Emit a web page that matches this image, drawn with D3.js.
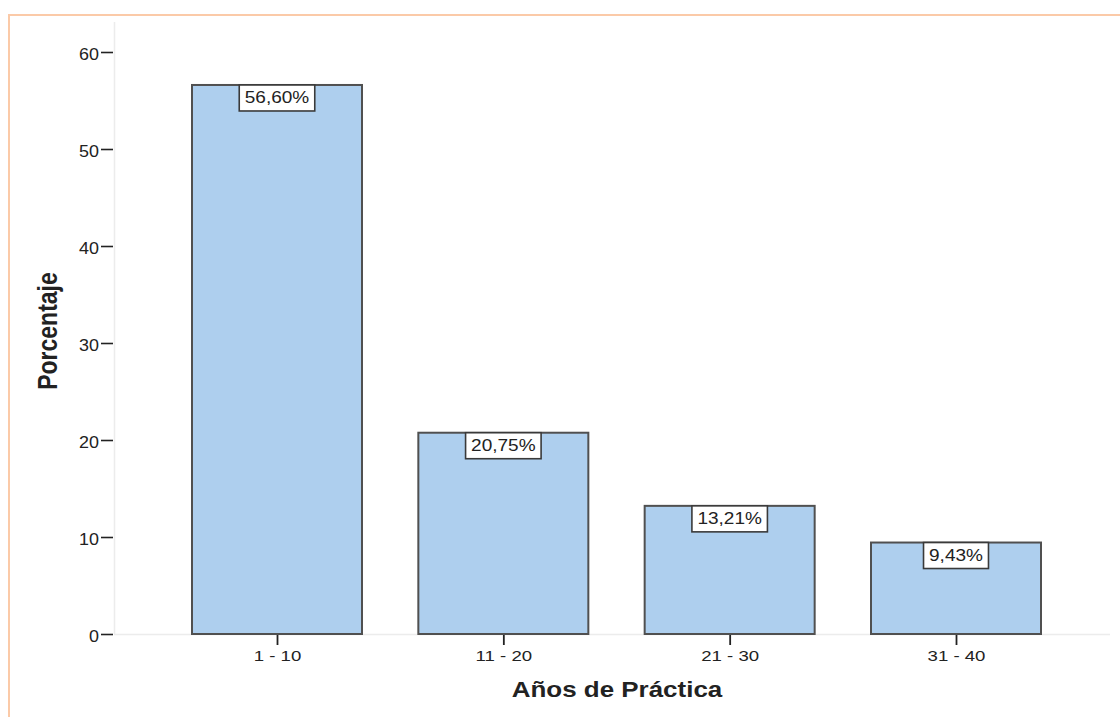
<!DOCTYPE html>
<html>
<head>
<meta charset="utf-8">
<script src="https://cdn.jsdelivr.net/npm/d3@7"></script>
<style>
  html, body { margin: 0; padding: 0; background: #fff; }
  svg { display: block; }
  text { font-family: "Liberation Sans", Arial, sans-serif; fill: #222; }
</style>
</head>
<body>
<svg id="chart" width="1120" height="717"></svg>
<script>
// Percentage of respondents by years of practice
const categories = ["1 - 10", "11 - 20", "21 - 30", "31 - 40"];
const percentages = [56.60, 20.75, 13.21, 9.43];
const yTicks = [0, 10, 20, 30, 40, 50, 60];

const svg = d3.select("#chart");
const FONT = "'Liberation Sans', Arial, sans-serif";
const SX = 1.18; // horizontal widening of the glyphs

// outer frame
svg.append("path")
  .attr("d", "M9,717 V15 H1120")
  .attr("fill", "none")
  .attr("stroke", "#fbcaa8")
  .attr("stroke-width", 2);

const x = d3.scalePoint().domain(categories).range([277, 956]);
const y = d3.scaleLinear().domain([0, 60]).range([634, 52]);
const barW = 170;

// faint plot frame lines
svg.append("line")
  .attr("x1", 114.5).attr("x2", 114.5)
  .attr("y1", 22).attr("y2", y(0))
  .attr("stroke", "#ececec").attr("stroke-width", 1.5);
svg.append("line")
  .attr("x1", 114).attr("x2", 1110)
  .attr("y1", y(0) + 0.5).attr("y2", y(0) + 0.5)
  .attr("stroke", "#ececec").attr("stroke-width", 1.5);

// y axis
const yAxis = d3.axisLeft(y).tickValues(yTicks).tickSize(12).tickPadding(2);
const gy = svg.append("g").attr("transform", "translate(113,0)").call(yAxis);
gy.select(".domain").remove();
gy.selectAll(".tick line").attr("stroke", "#222").attr("stroke-width", 1.6);
gy.selectAll(".tick text")
  .style("font-size", "16px").style("font-family", FONT).attr("fill", "#222")
  .attr("x", -14 / 1.12).attr("y", 2.5)
  .attr("transform", "scale(1.12,1)");

// bars
svg.append("g").selectAll("rect")
  .data(categories)
  .join("rect")
  .attr("x", (d) => x(d) - barW / 2)
  .attr("y", (d, i) => y(percentages[i]))
  .attr("width", barW)
  .attr("height", (d, i) => y(0) - y(percentages[i]))
  .attr("fill", "#aecfee")
  .attr("stroke", "#505050")
  .attr("stroke-width", 2);

// x axis
const xAxis = d3.axisBottom(x).tickSize(10).tickPadding(5);
const gx = svg.append("g").attr("transform", `translate(0,${y(0) + 1})`).call(xAxis);
gx.select(".domain").remove();
gx.selectAll(".tick line").attr("stroke", "#222").attr("stroke-width", 1.8);
gx.selectAll(".tick text")
  .style("font-size", "15.5px").style("font-family", FONT).attr("fill", "#222")
  .attr("transform", "scale(1.2,1)");

// value labels
const fmt = (v) => v.toFixed(2).replace(".", ",") + "%";
const labels = svg.append("g").selectAll("g")
  .data(categories)
  .join("g")
  .attr("transform", (d, i) => `translate(${x(d)},${y(percentages[i])})`);
labels.append("text")
  .attr("text-anchor", "middle")
  .attr("y", 18.5)
  .attr("transform", "scale(1.12,1)")
  .style("font-size", "17px")
  .text((d, i) => fmt(percentages[i]))
  .each(function () {
    const w = this.getComputedTextLength() * 1.12 + 11;
    d3.select(this.parentNode).insert("rect", "text")
      .attr("x", -w / 2).attr("y", 0)
      .attr("width", w).attr("height", 26)
      .attr("fill", "#fff")
      .attr("stroke", "#3a3a3a").attr("stroke-width", 1.6);
  });

// axis titles
svg.append("text")
  .attr("transform", `translate(617,697) scale(${SX},1)`)
  .attr("text-anchor", "middle")
  .style("font-size", "22px").style("font-weight", "bold")
  .text("Años de Práctica");
svg.append("text")
  .attr("transform", `translate(57,331) rotate(-90) scale(1,${SX})`)
  .attr("text-anchor", "middle")
  .style("font-size", "23px").style("font-weight", "bold")
  .text("Porcentaje");
</script>
</body>
</html>
